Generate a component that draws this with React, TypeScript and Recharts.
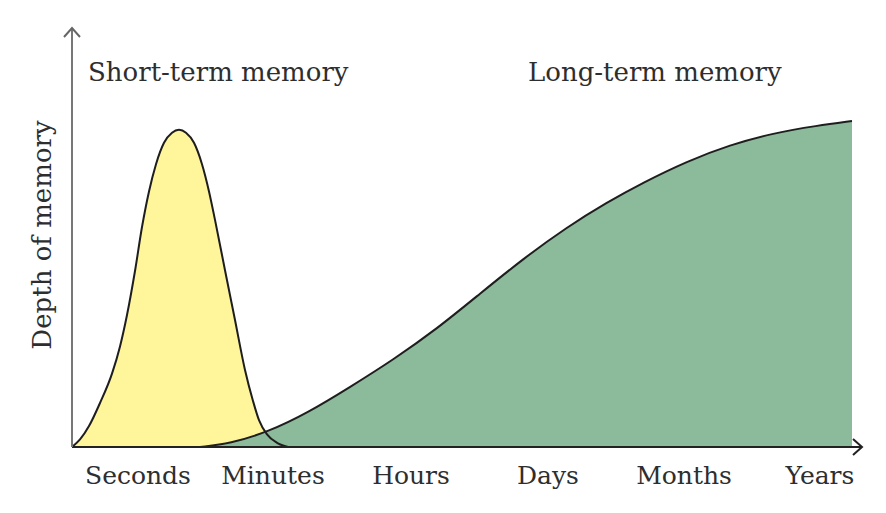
import React from "react";
import { ComposedChart, Area, Line, XAxis, YAxis, ReferenceDot } from "recharts";

// x positions on a 0..790 time scale, values on a 0..100 depth scale
const shortTermX = [0, 8, 17, 28, 40, 48, 55, 63, 70, 77, 84, 92, 100, 107, 114, 122, 130, 137, 143, 153, 163, 173, 181, 187, 195, 205, 216];
const shortTermY = [0, 1.8, 5, 10.5, 17.5, 24, 31.5, 42, 52.5, 61, 67.5, 72.6, 75, 75.7, 75, 72.6, 67.5, 61, 54.2, 42.2, 30.3, 18.4, 11, 6.4, 3, 1, 0];

const longTermX = [128, 158, 196, 236, 278, 321, 365, 408, 451, 495, 535, 571, 615, 658, 701, 745, 780];
const longTermY = [0, 0.8, 3.6, 8.2, 14.3, 20.8, 28.2, 36.6, 44.9, 52.5, 58.4, 63.1, 68.2, 72.1, 74.9, 76.7, 77.8];

const tickPositions = [66, 201, 339, 476, 612, 748];
const tickLabels = ["Seconds", "Minutes", "Hours", "Days", "Months", "Years"];

const X_MAX = 790;
const Y_MAX = 100;

type Row = { x: number; short?: number | null; long?: number | null };

function buildRows(): Row[] {
  const map = new Map<number, Row>();
  shortTermX.forEach((x, i) => {
    const r = map.get(x) || { x };
    r.short = shortTermY[i];
    map.set(x, r);
  });
  longTermX.forEach((x, i) => {
    const r = map.get(x) || { x };
    r.long = longTermY[i];
    map.set(x, r);
  });
  return Array.from(map.values())
    .sort((a, b) => a.x - b.x)
    .map((r) => ({ x: r.x, short: r.short ?? null, long: r.long ?? null }));
}

const rows = buildRows();

const FONT = "'DejaVu Serif', serif";
const TEXT_COLOR = "#2e2e2e";

const XArrow = (props: any) => {
  const { cx, cy } = props;
  return (
    <polyline
      points={`${cx - 9},${cy - 8} ${cx},${cy} ${cx - 9},${cy + 8}`}
      fill="none"
      stroke="#222"
      strokeWidth={2}
    />
  );
};

const YArrow = (props: any) => {
  const { cx, cy } = props;
  return (
    <polyline
      points={`${cx - 8},${cy + 9} ${cx},${cy} ${cx + 8},${cy + 9}`}
      fill="none"
      stroke="#666"
      strokeWidth={2}
    />
  );
};

export default function App() {
  return (
    <div style={{ position: "absolute", left: 0, top: 0, width: 886, height: 513, background: "#fff" }}>
      <ComposedChart
        width={886}
        height={513}
        data={rows}
        margin={{ top: 28, right: 24, left: 0, bottom: 26 }}
      >
        <XAxis
          type="number"
          dataKey="x"
          domain={[0, X_MAX]}
          allowDataOverflow
          ticks={tickPositions}
          interval={0}
          tickFormatter={(v: number) => tickLabels[tickPositions.indexOf(v)] ?? ""}
          tickLine={false}
          tickSize={6}
          tickMargin={13}
          height={40}
          axisLine={{ stroke: "#222", strokeWidth: 2 }}
          tick={{ fontFamily: FONT, fontSize: 25, fill: TEXT_COLOR }}
        />
        <YAxis
          type="number"
          domain={[0, Y_MAX]}
          allowDataOverflow
          width={72}
          tick={false}
          tickLine={false}
          axisLine={{ stroke: "#777", strokeWidth: 2 }}
        />
        <Area
          type="monotone"
          dataKey="short"
          fill="#fff59a"
          fillOpacity={1}
          stroke="none"
          connectNulls
          isAnimationActive={false}
        />
        <Area
          type="basis"
          dataKey="long"
          fill="#8bbb9a"
          fillOpacity={1}
          stroke="#1e1e1e"
          strokeWidth={2}
          connectNulls
          isAnimationActive={false}
        />
        <Line
          type="monotone"
          dataKey="short"
          stroke="#1e1e1e"
          strokeWidth={2}
          dot={false}
          connectNulls
          isAnimationActive={false}
        />
        <ReferenceDot x={X_MAX} y={0} r={0} shape={XArrow} ifOverflow="visible" />
        <ReferenceDot x={0} y={Y_MAX} r={0} shape={YArrow} ifOverflow="visible" />
      </ComposedChart>
      <svg
        width={886}
        height={513}
        style={{ position: "absolute", left: 0, top: 0, pointerEvents: "none" }}
      >
        <text x={88} y={81} fontFamily={FONT} fontSize={26} fill={TEXT_COLOR}>
          Short-term memory
        </text>
        <text x={528} y={81} fontFamily={FONT} fontSize={26} fill={TEXT_COLOR}>
          Long-term memory
        </text>
        <text
          x={0}
          y={0}
          transform="translate(51,235) rotate(-90)"
          textAnchor="middle"
          fontFamily={FONT}
          fontSize={26}
          fill={TEXT_COLOR}
        >
          Depth of memory
        </text>
      </svg>
    </div>
  );
}
